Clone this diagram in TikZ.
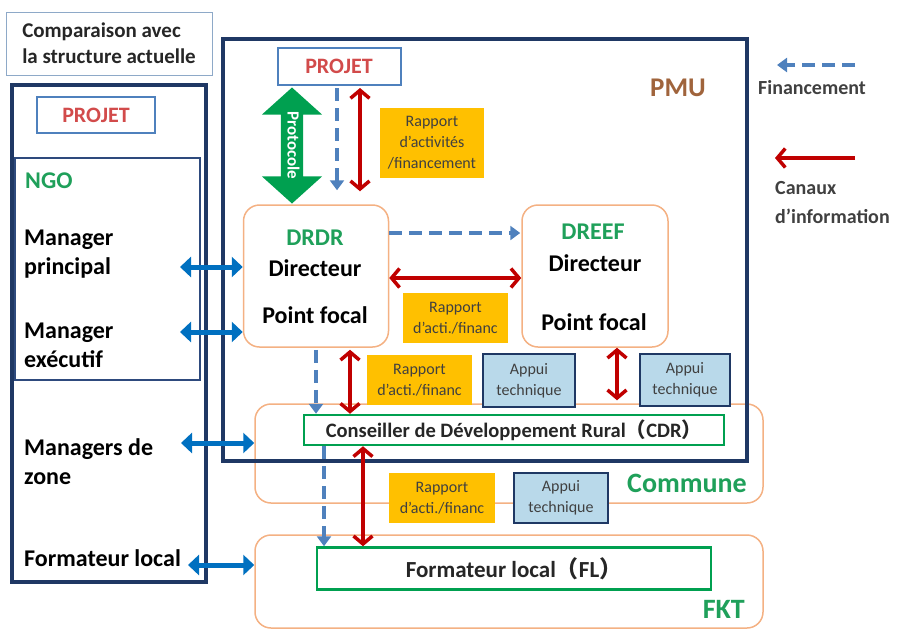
\documentclass[tikz,border=0pt]{standalone}
\usepackage{fontspec}
\setmainfont{Carlito}
\newfontfamily\cjk{Noto Sans CJK SC}
\usetikzlibrary{arrows.meta,shapes.arrows}

\definecolor{navy}{HTML}{1F3864}
\definecolor{ngoline}{HTML}{2E4A7D}
\definecolor{projline}{HTML}{4F81BD}
\definecolor{projred}{HTML}{D24B4B}
\definecolor{orgline}{HTML}{F4B183}
\definecolor{ngogreen}{HTML}{1FA05A}
\definecolor{cdrgreen}{HTML}{00A050}
\definecolor{rapfill}{HTML}{FFC000}
\definecolor{appfill}{HTML}{B9D9EA}
\definecolor{infored}{HTML}{C00000}
\definecolor{finblue}{HTML}{4F81BD}
\definecolor{mgrblue}{HTML}{0070C0}
\definecolor{pmubrown}{HTML}{A0643C}
\definecolor{protgreen}{HTML}{00A050}
\definecolor{ttlline}{HTML}{8EA9C8}
\definecolor{txtgray}{HTML}{404040}

\tikzset{
  infotip/.tip={Straight Barb[length=8pt,width=19pt]},
  mgrtip/.tip={Triangle[length=11pt,width=20pt]},
  navybox/.style={draw=navy, line width=3.5pt},
  projbox/.style={draw=projline, line width=2pt, fill=white, text=projred, font=\bfseries\fontsize{22}{22}\selectfont},
  orgbox/.style={draw=orgline, line width=1.5pt, rounded corners=16pt, fill=white},
  rapbox/.style={fill=rapfill, align=center, text=txtgray, inner sep=0pt, font=\fontsize{16}{21}\selectfont},
  appbox/.style={draw=navy, line width=1.3pt, fill=appfill, align=center, text=txtgray, inner sep=0pt, font=\fontsize{16}{21}\selectfont},
  cdrbox/.style={draw=cdrgreen, line width=2.5pt, fill=white, inner sep=0pt, text=black!85},
  maintxt/.style={font=\bfseries\fontsize{24}{29}\selectfont, text=black, inner sep=0pt, align=left},
  grntxt/.style={font=\bfseries\fontsize{24}{24}\selectfont, text=ngogreen, inner sep=0pt},
  legtxt/.style={font=\bfseries\fontsize{20}{29}\selectfont, text=txtgray, inner sep=0pt},
  redarr/.style={draw=infored, line width=3.5pt, infotip-infotip},
  bluearr/.style={draw=mgrblue, line width=5pt, mgrtip-mgrtip},
  finarr/.style={draw=finblue, line width=4pt, dash pattern=on 13pt off 7pt, -{Triangle[length=10pt,width=14pt]}},
}

\begin{document}
\begin{tikzpicture}[x=1pt,y=-1pt]
\useasboundingbox (0,0) rectangle (908,630);

% commune and fokontany frames
\node[orgbox, minimum width=508pt, minimum height=99pt] (commune) at (509,453.5) {};
\node[orgbox, minimum width=508pt, minimum height=93pt] (fkt) at (509,581.5) {};
\node[grntxt, anchor=east, font=\bfseries\fontsize{28}{28}\selectfont] (communetxt) at (747,483) {Commune};
\node[grntxt, anchor=east, font=\bfseries\fontsize{28}{28}\selectfont] (fkttxt) at (745,609) {FKT};

% PMU frame
\node[navybox, minimum width=524pt, minimum height=422pt] (pmu) at (485,250) {};
\node[font=\bfseries\fontsize{27}{27}\selectfont, text=pmubrown] (pmutxt) at (678,88) {PMU};

% current structure
\node[draw=ttlline, line width=1pt, minimum width=206pt, minimum height=63pt, align=left, text=black!85, font=\bfseries\fontsize{21}{26}\selectfont] (title) at (109,43.5) {Comparaison avec\\la structure actuelle};
\node[navybox, minimum width=194pt, minimum height=497pt] (lbox) at (109,333.5) {};
\node[projbox, minimum width=118pt, minimum height=36pt] (projL) at (96,115) {PROJET};
\node[draw=ngoline, line width=1.2pt, minimum width=185pt, minimum height=222pt] (ngo) at (107.5,269) {};
\node[grntxt, anchor=west] (ngotxt) at (25,181) {NGO};
\node[maintxt, anchor=west] (mprin) at (24,254) {Manager\\principal};
\node[maintxt, anchor=west] (mexec) at (24,345) {Manager\\exécutif};
\node[maintxt, anchor=west] (mzone) at (24,462) {Managers de\\zone};
\node[maintxt, anchor=west] (mform) at (24,558) {Formateur local};

% project and services
\node[projbox, minimum width=123pt, minimum height=37pt] (projA) at (339,66.5) {PROJET};
\node[orgbox, minimum width=145pt, minimum height=142pt] (drdr) at (316,276) {};
\node[grntxt] (drdrname) at (315,238) {DRDR};
\node[maintxt] (drdrdir) at (315,268) {Directeur};
\node[maintxt] (drdrpf) at (315,315) {Point focal};
\node[orgbox, minimum width=146pt, minimum height=142pt] (dreef) at (595,276) {};
\node[grntxt] (dreefname) at (593,232) {DREEF};
\node[maintxt] (dreefdir) at (595,263) {Directeur};
\node[maintxt] (dreefpf) at (594,322) {Point focal};

\node[double arrow, fill=protgreen, rotate=-90, minimum height=116pt, double arrow head extend=19pt, double arrow tip angle=96, inner xsep=0pt, inner ysep=3.5pt, text height=12pt, text depth=3pt, text=white, font=\bfseries\fontsize{17}{17}\selectfont] (proto) at (292,145.5) {Protocole};

% reports and support
\node[rapbox, minimum width=104pt, minimum height=70pt] (rap1) at (432,143) {Rapport\\d'activités\\/financement};
\node[rapbox, minimum width=105pt, minimum height=50pt] (rap2) at (455.5,318) {Rapport\\d'acti./financ};
\node[rapbox, minimum width=105pt, minimum height=50pt] (rap3) at (419.5,380) {Rapport\\d'acti./financ};
\node[appbox, minimum width=92pt, minimum height=53pt] (app1) at (529,380.5) {Appui\\technique};
\node[appbox, minimum width=90pt, minimum height=52pt] (app2) at (685,380) {Appui\\technique};
\node[rapbox, minimum width=106pt, minimum height=50pt] (rap4) at (442,498) {Rapport\\d'acti./financ};
\node[appbox, minimum width=94pt, minimum height=50pt] (app3) at (561,498) {Appui\\technique};

% CDR and FL
\node[cdrbox, minimum width=420pt, minimum height=30pt, font=\bfseries\fontsize{20.5}{20.5}\selectfont] (cdr) at (514,430) {Conseiller de Développement Rural{\cjk （}CDR{\cjk ）}};
\node[cdrbox, minimum width=394pt, minimum height=42pt, font=\bfseries\fontsize{23}{23}\selectfont] (fl) at (514,568.5) {Formateur local{\cjk （}FL{\cjk ）}};

% financing flows
\draw[finarr, shorten <=2pt, shorten >=14pt] ([xshift=-2pt]projA.south) -- ([xshift=-2pt]projA.south |- drdr.north);
\draw[finarr, shorten >=1pt] ([yshift=43pt]drdr.east) -- ([yshift=43pt]dreef.west);
\draw[finarr, shorten <=2pt] (drdr.south) -- (drdr.south |- cdr.north);
\draw[finarr] ([xshift=-190pt]cdr.south) -- ([xshift=-190pt]cdr.south |- fl.north);

% information channels
\draw[redarr, shorten <=2pt, shorten >=13pt] ([xshift=21pt]projA.south) -- ([xshift=21pt]projA.south |- drdr.north);
\draw[redarr] ([yshift=-2pt]drdr.east) -- ([yshift=-2pt]dreef.west);
\draw[redarr, shorten <=2pt] ([xshift=34pt]drdr.south) -- ([xshift=34pt]drdr.south |- cdr.north);
\draw[redarr, shorten >=3pt] ([xshift=22pt]dreef.south) -- ([xshift=22pt]dreef.south |- commune.north);
\draw[redarr] ([xshift=-151pt]cdr.south) -- ([xshift=-151pt]cdr.south |- fl.north);

% managers
\coordinate (mgr1) at (180,267);
\coordinate (mgr2) at (180,332);
\coordinate (mgr3) at (181,443);
\coordinate (mgr4) at (188,565);
\draw[bluearr] (mgr1) -- (mgr1 -| drdr.west);
\draw[bluearr] (mgr2) -- (mgr2 -| drdr.west);
\draw[bluearr] (mgr3) -- (mgr3 -| commune.west);
\draw[bluearr] (mgr4) -- (mgr4 -| fkt.west);

% legend
\coordinate (finR) at (855,65);
\coordinate (finL) at (777,65);
\draw[finarr] (finR) -- (finL);
\node[legtxt] (fintxt) at (812,88) {Financement};
\coordinate (infR) at (855,158);
\coordinate (infL) at (775,158);
\draw[redarr, -infotip] (infR) -- (infL);
\node[legtxt, anchor=west, align=left] (inftxt) at (775,202.5) {Canaux\\d'information};
\end{tikzpicture}
\end{document}
